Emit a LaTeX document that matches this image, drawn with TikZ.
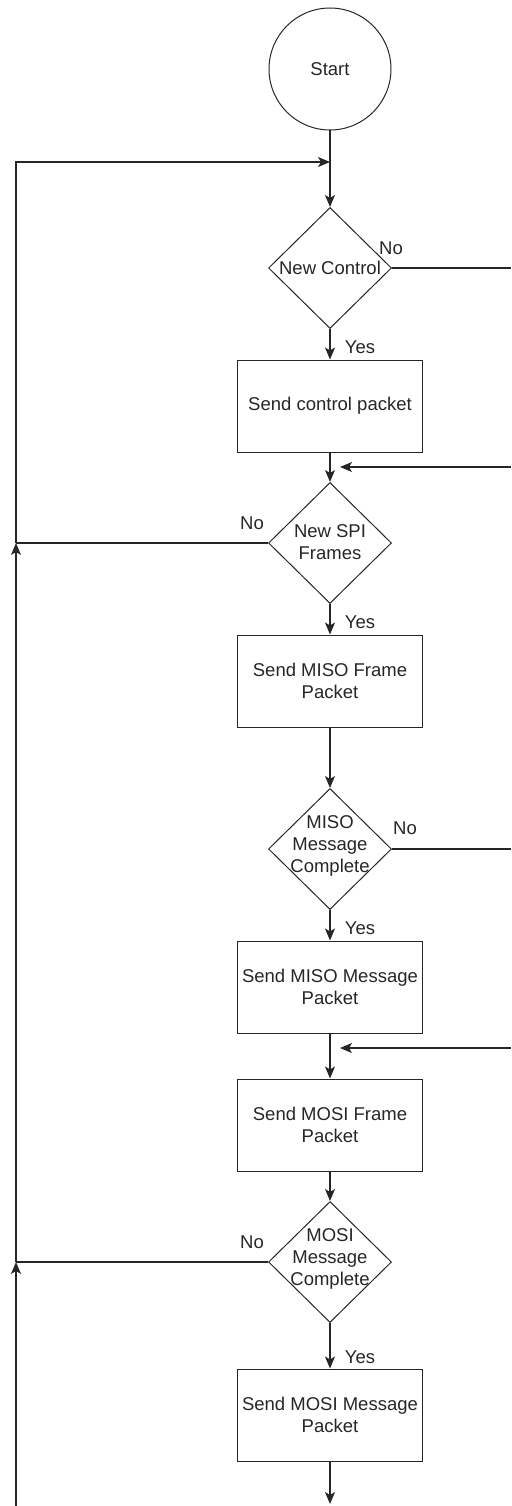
\documentclass[tikz,border=0pt]{standalone}
\usepackage{fontspec}
\setmainfont{Liberation Sans}
\usetikzlibrary{arrows.meta,shapes.geometric}

\tikzset{
  every node/.style={font=\fontsize{18.5}{22}\selectfont, text=black!85},
  flow/.style={line width=1.2pt, draw=black!85},
  arr/.style={flow, -{Stealth[length=12pt,width=10pt,inset=3pt]}},
  terminal/.style={circle, draw=black!85, line width=1pt, minimum size=122pt, inner sep=0pt},
  process/.style={rectangle, draw=black!85, line width=1pt, minimum width=185pt, minimum height=92pt, inner sep=0pt, align=center},
  decision/.style={diamond, draw=black!85, line width=1pt, minimum width=123pt, minimum height=121pt, inner sep=0pt},
  dtext/.style={align=center, inner sep=0pt},
  answer/.style={inner sep=0pt},
}

\begin{document}
\begin{tikzpicture}[x=1pt, y=-1pt]
\useasboundingbox (0,0) rectangle (511,1506);

% shapes of the flow
\node[terminal] (start) at (330,69) {Start};

\node[decision] (d1) at (330,268) {};
\node[dtext] (t1) at (d1.center) {New Control};

\node[process] (b1) at (330,406) {Send control packet};

\node[decision] (d2) at (330,543) {};
\node[dtext] (t2) at ([yshift=1]d2.center) {New SPI\\Frames};

\node[process] (b2) at (330,681) {Send MISO Frame\\Packet};

\node[decision] (d3) at (330,849) {};
\node[dtext] (t3) at ([yshift=3]d3.center) {MISO\\Message\\Complete};

\node[process] (b3) at (330,987) {Send MISO Message\\Packet};

\node[process] (b4) at (330,1125) {Send MOSI Frame\\Packet};

\node[decision] (d4) at (330,1262) {};
\node[dtext] (t4) at ([yshift=3]d4.center) {MOSI\\Message\\Complete};

\node[process] (b5) at (330,1415) {Send MOSI Message\\Packet};

% junction points and free ends
\coordinate (j0) at (330,162);
\coordinate (ltop) at (16,162);
\coordinate (l1) at (16,543);
\coordinate (l2) at (16,1262);
\coordinate (lbot) at (16,1506);
\coordinate (r1) at (511,268);
\coordinate (r2) at (511,467);
\coordinate (ret1) at (340,467);
\coordinate (r3) at (511,849);
\coordinate (r4) at (511,1048);
\coordinate (ret2) at (340,1048);
\coordinate (bend) at (330,1504);

% main column
\draw[arr] (start) -- (d1);
\draw[arr] (d1) -- (b1);
\draw[arr] (b1) -- (d2);
\draw[arr] (d2) -- (b2);
\draw[arr] (b2) -- (d3);
\draw[arr] (d3) -- (b3);
\draw[arr] (b3) -- (b4);
\draw[arr] (b4) -- (d4);
\draw[arr] (d4) -- (b5);
\draw[arr] (b5) -- (bend);

% right-hand branches
\draw[flow] (d1.east) -- (r1);
\draw[arr] (r2) -- (ret1);
\draw[flow] (d3.east) -- (r3);
\draw[arr] (r4) -- (ret2);

% left-hand loop back to the top
\draw[flow] (d2.west) -- (l1);
\draw[flow] (d4.west) -- (l2);
\draw[arr] (lbot) -- (l2);
\draw[arr] (l2) -- (l1);
\draw[arr] (l1) -- (ltop) -- (j0);

% branch labels
\node[answer] (n1) at (391,248) {No};
\node[answer] (y1) at (360,347) {Yes};
\node[answer] (n2) at (252,523) {No};
\node[answer] (y2) at (360,622) {Yes};
\node[answer] (n3) at (405,828) {No};
\node[answer] (y3) at (360,928) {Yes};
\node[answer] (n4) at (252,1242) {No};
\node[answer] (y4) at (360,1357) {Yes};
\end{tikzpicture}
\end{document}
